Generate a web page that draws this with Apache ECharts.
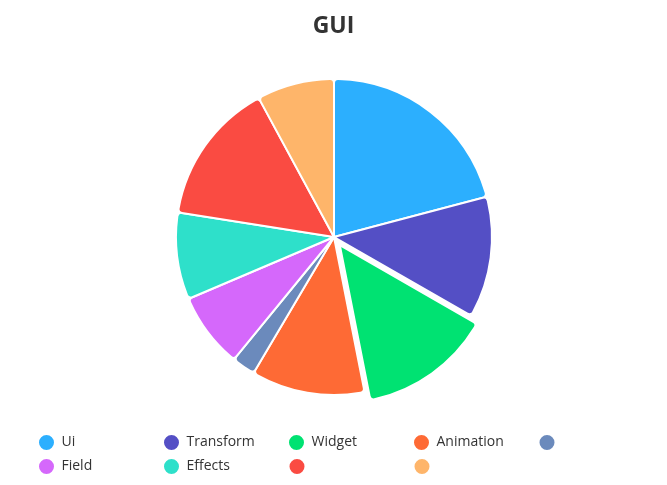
<!DOCTYPE html>
<html>
<head>
<meta charset="utf-8">
<script src="https://cdn.jsdelivr.net/npm/echarts@6/dist/echarts.min.js"></script>
<style>
html,body{margin:0;padding:0;background:#fff;}
#chart{width:667px;height:485px;}
</style>
</head>
<body>
<div id="chart"></div>
<script>
var names=['Ui','Transform','Widget','Animation','','Field','Effects','',''];
var values=[20.9,12.4,13.6,11.6,2.4,7.7,8.9,14.6,7.9];
var colors=['#2caffe','#544fc5','#00e272','#fe6a35','#6b8abc','#d568fb','#2ee0ca','#fa4b42','#feb56a'];
var slicedName='Widget';

var keys=names.map(function(n,i){return n||('_blank'+i);});
var pieData=keys.map(function(k,i){
    return {name:k,value:values[i],selected:names[i]==slicedName,itemStyle:{color:colors[i]}};
});

// one legend per item, 5 columns then wrap
var legends=keys.map(function(k,i){
    return {
        data:[k],
        left:32+125*(i%5),
        top:428+24*Math.floor(i/5),
        icon:'circle',
        itemWidth:20,
        itemHeight:17,
        selectedMode:false,
        formatter:function(k){
            return names[keys.indexOf(k)];
        },
        textStyle:{fontSize:14,color:'#333',fontFamily:'Open Sans, sans-serif'}
    };
});

var myChart=echarts.init(document.getElementById('chart'));
myChart.setOption({
    title:{
        text:'GUI',
        left:'center',
        top:10,
        textStyle:{fontSize:23,fontWeight:'bold',color:'#333',fontFamily:'Open Sans, sans-serif'}
    },
    legend:legends,
    series:[{
        type:'pie',
        center:[334,237],
        radius:158,
        startAngle:90,
        selectedMode:'single',
        selectedOffset:10,
        label:{show:false},
        labelLine:{show:false},
        itemStyle:{borderColor:'#fff',borderWidth:2,borderRadius:4},
        emphasis:{scale:false},
        data:pieData
    }]
});
</script>
</body>
</html>
